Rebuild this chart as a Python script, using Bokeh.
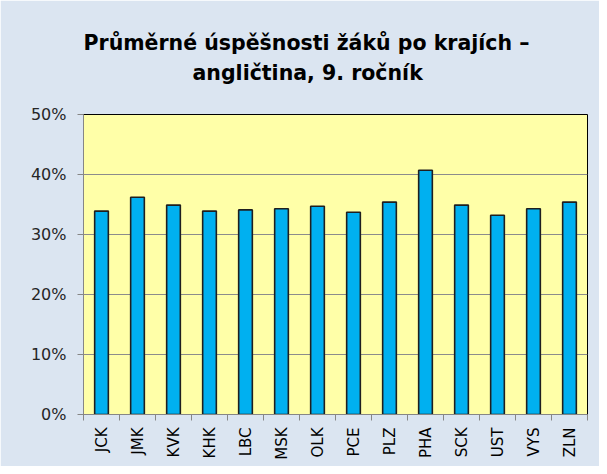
import math
from bokeh.plotting import figure
from bokeh.models import (ColumnDataSource, Range1d, FixedTicker, PrintfTickFormatter, Title)
from bokeh.embed import file_html
from bokeh.resources import INLINE

# ---- data ----
regions = ["JCK", "JMK", "KVK", "KHK", "LBC", "MSK", "OLK", "PCE", "PLZ", "PHA", "SCK", "UST", "VYS", "ZLN"]
success = [33.9, 36.2, 34.9, 33.9, 34.1, 34.3, 34.7, 33.7, 35.4, 40.7, 34.9, 33.2, 34.3, 35.4]
y_ticks = [0, 10, 20, 30, 40, 50]
title_line1 = "Průměrné úspěšnosti žáků po krajích –"
title_line2 = "angličtina, 9. ročník"

positions = list(range(1, len(regions) + 1))
source = ColumnDataSource(dict(x=positions, top=success, name=regions))

p = figure(width=599, height=466, output_backend="svg", toolbar_location=None,
           x_range=Range1d(0.5, len(regions) + 0.5), y_range=Range1d(0, 50),
           min_border_left=83, min_border_right=12, min_border_top=114, min_border_bottom=52)
p.title = None

p.background_fill_color = "#ffffa8"
p.border_fill_color = "#dbe5f1"
p.outline_line_color = "#000000"
p.outline_line_width = 1

p.vbar(x="x", top="top", width=0.38, source=source,
       fill_color="#00b0f0", line_color="#1f1f1f", line_width=1.6)

# y axis
p.yaxis.ticker = FixedTicker(ticks=y_ticks)
p.yaxis.formatter = PrintfTickFormatter(format="%d%%")
p.yaxis.major_tick_in = 0
p.yaxis.major_tick_out = 6
p.yaxis.minor_tick_line_color = None
p.yaxis.axis_line_color = "#868686"
p.yaxis.major_tick_line_color = "#868686"
p.yaxis.major_label_text_font = "DejaVu Sans"
p.yaxis.major_label_text_font_size = "16px"
p.yaxis.major_label_text_color = "#262626"
p.yaxis.major_label_standoff = 11

# x axis with ticks at category boundaries
p.xaxis.ticker = FixedTicker(ticks=positions, minor_ticks=[i + 0.5 for i in range(len(regions) + 1)])
p.xaxis.major_label_overrides = {pos: name for pos, name in zip(positions, regions)}
p.xaxis.major_tick_line_color = None
p.xaxis.major_tick_out = 6
p.xaxis.major_tick_in = 0
p.xaxis.minor_tick_out = 6
p.xaxis.minor_tick_in = 0
p.xaxis.minor_tick_line_color = "#868686"
p.xaxis.axis_line_color = "#868686"
p.xaxis.major_label_orientation = math.pi / 2
p.xaxis.major_label_text_font = "DejaVu Sans"
p.xaxis.major_label_text_font_size = "15px"
p.xaxis.major_label_text_color = "#000000"
p.xaxis.major_label_standoff = 7

p.ygrid.ticker = FixedTicker(ticks=y_ticks)
p.ygrid.grid_line_color = "#8c8c8c"
p.ygrid.grid_line_alpha = 1.0
p.xgrid.grid_line_color = None

common = dict(align="left", text_font="DejaVu Sans", text_font_style="bold",
              text_font_size="20.5px", text_color="#000000")
# spacer between the frame and the two title lines
p.add_layout(Title(text=" ", text_font_size="1px", standoff=27), "above")
p.add_layout(Title(text=title_line2, offset=109, standoff=0, **common), "above")
p.add_layout(Title(text=title_line1, offset=0, standoff=8, **common), "above")

open("out.html", "w").write(file_html(p, INLINE))
